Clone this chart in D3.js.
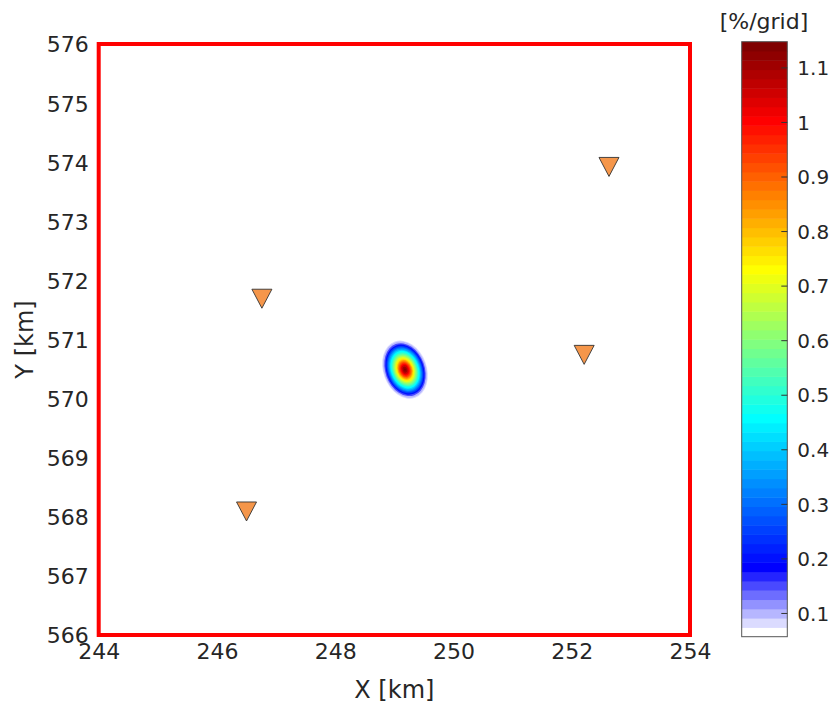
<!DOCTYPE html>
<html>
<head>
<meta charset="utf-8">
<script src="https://cdn.jsdelivr.net/npm/d3@7"></script>
<style>
  body { margin: 0; background: #fff; }
  text { font-family: "DejaVu Sans", sans-serif; fill: #262626; }
</style>
</head>
<body>
<div id="chart"></div>
<script>
// Data
const xTicks = [244, 246, 248, 250, 252, 254];
const yTicks = [566, 567, 568, 569, 570, 571, 572, 573, 574, 575, 576];
const cbTicks = [0.1, 0.2, 0.3, 0.4, 0.5, 0.6, 0.7, 0.8, 0.9, 1, 1.1];
const cbRange = [0.0574, 1.148]; // [%/grid]

// stations (triangles)
const stationX = [246.76, 252.63, 252.21, 246.50];
const stationY = [571.69, 573.92, 570.74, 568.09];

// location probability: nested iso-levels
const sourceX = 249.18, sourceY = 570.49, tiltDeg = 20;
const levelValues = [0.075, 0.10, 0.15, 0.20, 0.25, 0.30, 0.35, 0.40, 0.45, 0.50, 0.55, 0.60,
  0.65, 0.70, 0.75, 0.80, 0.85, 0.90, 0.95, 1.00, 1.05, 1.10, 1.14];
const levelMajorKm = [0.505, 0.488, 0.460, 0.436, 0.412, 0.390, 0.370, 0.347, 0.327, 0.305, 0.285, 0.263,
  0.241, 0.220, 0.200, 0.178, 0.161, 0.142, 0.122, 0.102, 0.078, 0.051, 0.020];
const levelMinorKm = [0.368, 0.354, 0.333, 0.315, 0.297, 0.281, 0.266, 0.250, 0.235, 0.220, 0.205, 0.189,
  0.174, 0.158, 0.144, 0.128, 0.116, 0.102, 0.088, 0.073, 0.056, 0.037, 0.014];

// Base positioning
const W = 834, H = 707;
const plot = { left: 98.7, right: 690, top: 44, bottom: 635 };
const cb = { left: 741.7, right: 787.3, top: 41.7, bottom: 636.7 };

// colormap: white->blue ramp then jet(64)
const nColors = 64;
function jetU(k) {
  if (k < 1) return 0;
  if (k <= 16) return k / 16;
  if (k <= 31) return 1;
  if (k <= 47) return (48 - k) / 16;
  return 0;
}
function cmap(i) {
  if (i <= 7) {
    const c = Math.round(255 * (1 - i / 7));
    return d3.rgb(c, c, 255).formatHex();
  }
  const row = i + 1;
  return d3.rgb(255 * jetU(row - 24), 255 * jetU(row - 8), 255 * jetU(row + 8)).formatHex();
}
function colorOf(v) {
  let idx = Math.floor((v - cbRange[0]) / (cbRange[1] - cbRange[0]) * nColors);
  idx = Math.max(0, Math.min(nColors - 1, idx));
  return cmap(idx);
}

const svg = d3.select('#chart')
  .append('svg')
  .attr('width', W)
  .attr('height', H);

const x = d3.scaleLinear().domain([244, 254]).range([plot.left, plot.right]);
const y = d3.scaleLinear().domain([566, 576]).range([plot.bottom, plot.top]);

// blob
const cx = x(sourceX), cy = y(sourceY);
svg.append('g')
  .selectAll('ellipse')
  .data(levelValues.map((v, i) => ({ v: v, a: levelMajorKm[i], b: levelMinorKm[i] })))
  .enter()
  .append('ellipse')
  .attr('cx', cx)
  .attr('cy', cy)
  .attr('rx', d => x(sourceX + d.b) - cx)
  .attr('ry', d => cy - y(sourceY + d.a))
  .attr('transform', `rotate(${-tiltDeg},${cx},${cy})`)
  .attr('fill', d => colorOf(d.v));

// stations
svg.append('g')
  .selectAll('path')
  .data(stationX.map((sx, i) => [sx, stationY[i]]))
  .enter()
  .append('path')
  .attr('d', d => {
    const px = x(d[0]), py = y(d[1]);
    return `M${px - 10},${py - 9.5}L${px + 10},${py - 9.5}L${px},${py + 9.5}Z`;
  })
  .attr('fill', '#f5964a')
  .attr('stroke', '#333')
  .attr('stroke-width', 0.9);

// red frame
svg.append('rect')
  .attr('x', plot.left)
  .attr('y', plot.top)
  .attr('width', plot.right - plot.left)
  .attr('height', plot.bottom - plot.top)
  .attr('fill', 'none')
  .attr('stroke', '#ff0000')
  .attr('stroke-width', 4);

// axes (labels only)
svg.append('g')
  .attr('transform', `translate(0,${plot.bottom + 24})`)
  .call(d3.axisBottom(x).tickValues(xTicks).tickSize(0).tickPadding(0).tickFormat(d3.format('d')))
  .call(g => g.select('.domain').remove())
  .call(g => g.selectAll('text').attr('dy', 0).attr('fill', '#262626')
    .style('font-size', '22px').style('font-family', 'DejaVu Sans'));

svg.append('g')
  .attr('transform', `translate(${plot.left - 10},0)`)
  .call(d3.axisLeft(y).tickValues(yTicks).tickSize(0).tickPadding(0).tickFormat(d3.format('d')))
  .call(g => g.select('.domain').remove())
  .call(g => g.selectAll('text').attr('dy', '0.36em').attr('fill', '#262626')
    .style('font-size', '22px').style('font-family', 'DejaVu Sans'));

svg.append('text')
  .attr('x', (plot.left + plot.right) / 2)
  .attr('y', 698)
  .attr('text-anchor', 'middle')
  .style('font-size', '24px')
  .text('X [km]');

svg.append('text')
  .attr('transform', `translate(33,${(plot.top + plot.bottom) / 2}) rotate(-90)`)
  .attr('text-anchor', 'middle')
  .style('font-size', '24px')
  .text('Y [km]');

// colorbar
const cbY = d3.scaleLinear().domain(cbRange).range([cb.bottom, cb.top]);
const bandH = (cb.bottom - cb.top) / nColors;
svg.append('g')
  .selectAll('rect')
  .data(d3.range(nColors))
  .enter()
  .append('rect')
  .attr('x', cb.left)
  .attr('y', i => cb.bottom - (i + 1) * bandH)
  .attr('width', cb.right - cb.left)
  .attr('height', bandH + 0.5)
  .attr('fill', i => cmap(i));

svg.append('rect')
  .attr('x', cb.left)
  .attr('y', cb.top)
  .attr('width', cb.right - cb.left)
  .attr('height', cb.bottom - cb.top)
  .attr('fill', 'none')
  .attr('stroke', '#555')
  .attr('stroke-width', 1);

const cbAxis = svg.append('g')
  .attr('transform', `translate(${cb.right},0)`);
cbAxis.selectAll('line')
  .data(cbTicks)
  .enter()
  .append('line')
  .attr('x1', -6).attr('x2', 0)
  .attr('y1', d => cbY(d)).attr('y2', d => cbY(d))
  .attr('stroke', '#333')
  .attr('stroke-width', 1);
cbAxis.selectAll('text')
  .data(cbTicks)
  .enter()
  .append('text')
  .attr('x', 10)
  .attr('y', d => cbY(d))
  .attr('dy', '0.36em')
  .style('font-size', '20px')
  .text(d => d3.format('~g')(d));

svg.append('text')
  .attr('x', 764)
  .attr('y', 29)
  .attr('text-anchor', 'middle')
  .style('font-size', '22px')
  .text('[%/grid]');
</script>
</body>
</html>
